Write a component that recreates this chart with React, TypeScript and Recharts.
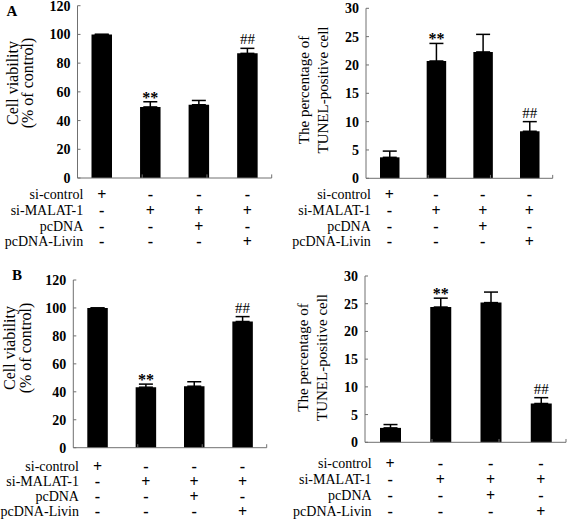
import React from 'react';
import { BarChart, Bar, XAxis, YAxis, ErrorBar, LabelList, ReferenceLine } from 'recharts';

const groups = ['G1', 'G2', 'G3', 'G4'];
const rowLabels = ['si-control', 'si-MALAT-1', 'pcDNA', 'pcDNA-Livin'];
const siControl = ['+', '-', '-', '-'];
const siMalat = ['-', '+', '+', '+'];
const pcDNA = ['-', '-', '+', '-'];
const pcDNALivin = ['-', '-', '-', '+'];
const signRows = [siControl, siMalat, pcDNA, pcDNALivin];

const viabilityA = [100, 49.5, 51, 86.8];
const viabilityAErr = [0, 3.6, 3, 3.5];
const tunelA = [3.7, 20.7, 22.3, 8.3];
const tunelAErr = [1.1, 3.1, 3.1, 1.7];
const viabilityB = [100, 43.3, 44, 90.3];
const viabilityBErr = [0, 2.2, 3.2, 3.5];
const tunelB = [2.6, 24.4, 25.2, 7.0];
const tunelBErr = [0.6, 1.6, 1.9, 1.05];
const marks = ['', '**', '', '##'];

const viabilityTicks = [0, 20, 40, 60, 80, 100, 120];
const tunelTicks = [0, 5, 10, 15, 20, 25, 30];
const boundaries = [1, 2, 3, 4];

const FONT = '"Liberation Serif", "Times New Roman", serif';
const AXIS = '#707070';

const build = (vals: number[], errs: number[]) =>
  groups.map((g, i) => ({ g, value: vals[i], err: [0, errs[i]], mark: marks[i] }));

const TableTick = (props: any) => {
  const { x, y, payload, rows } = props;
  const i = payload.index;
  return (
    <g>
      {signRows.map((row, r) => (
        <text key={'s' + r} x={x} y={y + rows[r]} textAnchor="middle" dominantBaseline="central"
          fontFamily={FONT} fontSize={16} fontWeight="bold" fill="#000">{row[i]}</text>
      ))}
      {i === 0 && rowLabels.map((lbl, r) => (
        <text key={'l' + r} x={x - 18.5} y={y + rows[r]} textAnchor="end" dominantBaseline="central"
          fontFamily={FONT} fontSize={14} fill="#000">{lbl}</text>
      ))}
    </g>
  );
};

const AxisTitle = (props: any) => {
  const { lines, xs, cy, size, letter } = props;
  return (
    <g>
      {lines.map((t: string, k: number) => (
        <text key={k} x={xs[k]} y={cy} transform={`rotate(-90 ${xs[k]} ${cy})`} textAnchor="middle"
          dominantBaseline="central" fontFamily={FONT} fontSize={size} fill="#000">{t}</text>
      ))}
      {letter && (
        <text x={letter.x} y={letter.y} textAnchor="middle" dominantBaseline="central" fontFamily={FONT}
          fontSize={15} fontWeight="bold" fill="#000">{letter.t}</text>
      )}
    </g>
  );
};

type PanelProps = {
  left: number; top: number; width: number; height: number;
  margin: any; yWidth: number; xHeight: number; barSize: number;
  vals: number[]; errs: number[]; max: number; ticks: number[]; tickLen: number;
  rows: number[]; title: any;
};

const Panel = (p: PanelProps) => {
  const data = build(p.vals, p.errs);
  const markContent = (lp: any) => {
    const { x, y, width, height, index } = lp;
    const v = data[index].value;
    const e = data[index].err[1];
    const m = data[index].mark;
    if (!m) return null;
    const perUnit = height / v;
    const top = y - e * perUnit;
    const isStar = m === '**';
    return (
      <text x={x + width / 2} y={isStar ? top + 1 : top - 4} textAnchor="middle" fontFamily={FONT}
        fontSize={isStar ? 16 : 15} fontWeight={isStar ? 'bold' : 'normal'} fill="#000">{m}</text>
    );
  };
  return (
    <div style={{ position: 'absolute', left: p.left, top: p.top, width: p.width, height: p.height }}>
      <BarChart width={p.width} height={p.height} data={data} margin={p.margin} barSize={p.barSize}>
        <XAxis dataKey="g" height={p.xHeight} interval={0} tickLine={false} tickSize={0} tickMargin={0}
          axisLine={{ stroke: AXIS }} tick={<TableTick rows={p.rows} />} />
        <XAxis xAxisId="n" type="number" domain={[0, 4]} hide />
        <YAxis width={p.yWidth} domain={[0, p.max]} ticks={p.ticks} interval={0} tickSize={-3} tickMargin={10}
          axisLine={{ stroke: AXIS }} tickLine={{ stroke: AXIS }}
          tick={{ fill: '#000', fontSize: 14, fontWeight: 'bold', fontFamily: FONT }}
          label={<AxisTitle {...p.title} />} />
        {boundaries.map((b) => (
          <ReferenceLine key={b} xAxisId="n" segment={[{ x: b, y: 0 }, { x: b, y: p.tickLen }]} stroke={AXIS} />
        ))}
        <Bar dataKey="value" fill="#000" isAnimationActive={false}>
          <ErrorBar dataKey="err" direction="y" width={7} stroke="#000" strokeWidth={1.5} isAnimationActive={false} />
          <LabelList dataKey="mark" content={markContent} />
        </Bar>
      </BarChart>
    </div>
  );
};

export default function App() {
  return (
    <div style={{ position: 'absolute', left: 0, top: 0, width: 567, height: 522, background: '#fff' }}>
      <Panel left={0} top={0} width={280} height={260} margin={{ top: 5.7, right: 8.3, left: 0, bottom: 0 }}
        yWidth={77.5} xHeight={82} barSize={20.5} vals={viabilityA} errs={viabilityAErr} max={120}
        ticks={viabilityTicks} tickLen={2.5} rows={[16, 32, 48, 63.5]}
        title={{ lines: ['Cell viability', '(% of control)'], xs: [12, 27], cy: 83, size: 16, letter: { t: 'A', x: 12, y: 11 } }} />
      <Panel left={280} top={0} width={287} height={260} margin={{ top: 8.3, right: 14.3, left: 0, bottom: 0 }}
        yWidth={86} xHeight={81.7} barSize={19.5} vals={tunelA} errs={tunelAErr} max={30}
        ticks={tunelTicks} tickLen={0.6} rows={[16, 32, 48, 63.5]}
        title={{ lines: ['The percentage of', 'TUNEL-positive cell'], xs: [24, 43], cy: 90, size: 15 }} />
      <Panel left={0} top={260} width={280} height={262} margin={{ top: 20, right: 13.3, left: 0, bottom: 0 }}
        yWidth={73.3} xHeight={74.3} barSize={20.5} vals={viabilityB} errs={viabilityBErr} max={120}
        ticks={viabilityTicks} tickLen={2.5} rows={[19, 34, 49, 64]}
        title={{ lines: ['Cell viability', '(% of control)'], xs: [9, 25], cy: 88, size: 16, letter: { t: 'B', x: 17, y: 15 } }} />
      <Panel left={280} top={260} width={287} height={262} margin={{ top: 16, right: 1, left: 0, bottom: 0 }}
        yWidth={85} xHeight={79.7} barSize={21} vals={tunelB} errs={tunelBErr} max={30}
        ticks={tunelTicks} tickLen={0.6} rows={[21, 37, 53, 69]}
        title={{ lines: ['The percentage of', 'TUNEL-positive cell'], xs: [23, 42], cy: 97.5, size: 15 }} />
    </div>
  );
}
